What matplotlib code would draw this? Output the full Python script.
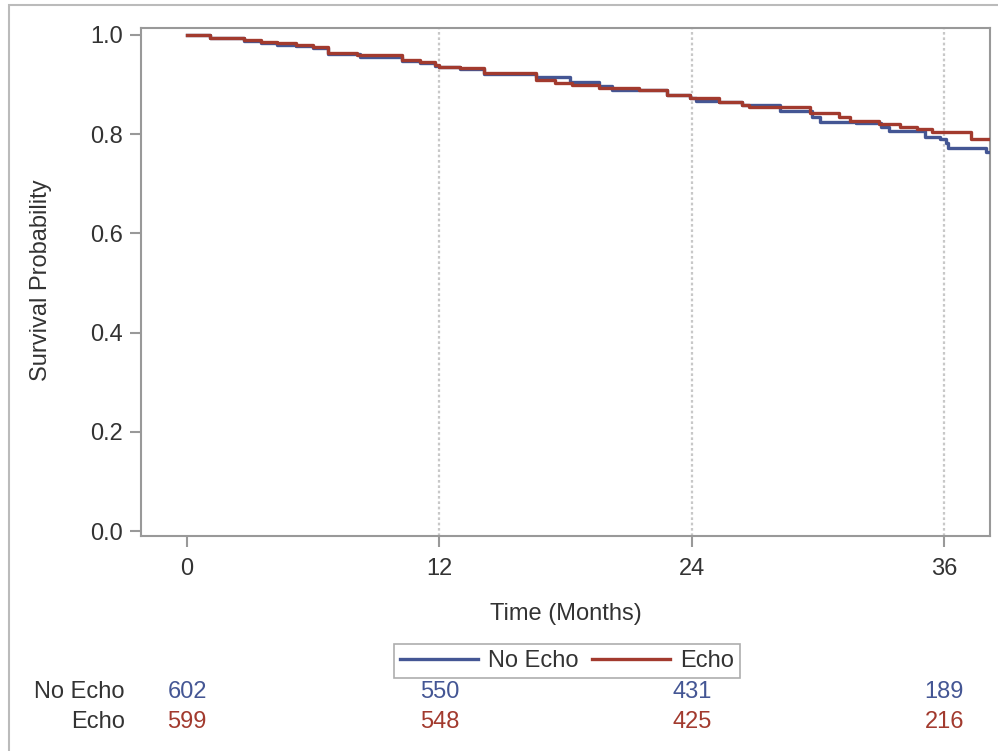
import numpy as np
import matplotlib.pyplot as plt
from matplotlib.lines import Line2D
from matplotlib.patches import Rectangle

plt.rcParams['font.family'] = ['Liberation Sans', 'DejaVu Sans']

# Kaplan-Meier step estimates (months, survival)
echo_t = [0, 1.1, 2.7, 3.5, 4.3, 5.2, 6.0, 6.7, 8.1, 10.2, 11.1, 11.8, 12.0, 13.0,
          14.1, 16.6, 17.5, 18.3, 19.6, 21.5, 22.8, 23.9, 25.3, 26.4, 26.7, 29.6,
          31.0, 31.5, 32.9, 33.9, 34.7, 35.4, 37.3, 38.2]
echo_s = [1.0, 0.994, 0.990, 0.986, 0.983, 0.980, 0.976, 0.964, 0.960, 0.950, 0.946,
          0.940, 0.936, 0.933, 0.923, 0.909, 0.903, 0.899, 0.894, 0.889, 0.879, 0.873,
          0.865, 0.858, 0.855, 0.843, 0.835, 0.827, 0.820, 0.814, 0.810, 0.804, 0.790,
          0.790]

noecho_t = [0, 1.1, 2.7, 3.5, 4.3, 5.2, 6.0, 6.7, 8.2, 10.2, 11.1, 11.8, 12.0, 13.0,
            14.1, 16.6, 18.2, 19.6, 20.2, 21.5, 22.8, 23.9, 24.2, 25.3, 26.4, 28.2,
            29.7, 30.1, 31.8, 33.0, 33.4, 35.1, 35.8, 36.1, 36.2, 38.0, 38.2]
noecho_s = [1.0, 0.993, 0.988, 0.983, 0.979, 0.977, 0.974, 0.962, 0.955, 0.948, 0.944,
            0.938, 0.935, 0.932, 0.922, 0.915, 0.905, 0.897, 0.890, 0.889, 0.879, 0.873,
            0.867, 0.865, 0.858, 0.846, 0.835, 0.825, 0.823, 0.814, 0.806, 0.794, 0.790,
            0.782, 0.772, 0.764, 0.764]

risk_times = [0, 12, 24, 36]
risk_noecho = [602, 550, 431, 189]
risk_echo = [599, 548, 425, 216]

blue = '#445694'
red = '#A23A2E'
axcol = '#999999'
txt = '#333333'
fs = 17

fig = plt.figure(figsize=(9.98, 7.51), dpi=100)

# outer frame of the graph
fig.patches.append(Rectangle((9 / 998, -0.1), 1.2, 1.0 - 5 / 751 + 0.1,
                             transform=fig.transFigure, fill=False,
                             edgecolor='#bbbbbb', linewidth=1.5))

ax = fig.add_axes([141 / 998, 1 - 536 / 751, (990 - 141) / 998, (536 - 28) / 751])

ax.step(noecho_t, noecho_s, where='post', color=blue, lw=2.4, label='No Echo', zorder=3)
ax.step(echo_t, echo_s, where='post', color=red, lw=2.4, label='Echo', zorder=4)

for t in [12, 24, 36]:
    ax.axvline(t, color='#c8c8c8', lw=1.6, ls=(0, (1.2, 1.2)), zorder=1)

ax.set_xlim(-2.19, 38.18)
ax.set_ylim(-0.010, 1.014)
ax.set_xticks(risk_times)
ax.set_yticks([0.0, 0.2, 0.4, 0.6, 0.8, 1.0])
ax.set_yticklabels(['0.0', '0.2', '0.4', '0.6', '0.8', '1.0'])
for s in ax.spines.values():
    s.set_color(axcol)
    s.set_linewidth(1.5)
ax.tick_params(direction='out', length=8, width=1.5, color=axcol,
               labelsize=fs, labelcolor=txt, pad=5)
ax.tick_params(axis='x', pad=8)
ax.set_xlabel('Time (Months)', fontsize=fs, color=txt)
ax.set_ylabel('Survival Probability', fontsize=fs, color=txt)
ax.xaxis.set_label_coords(0.5, -0.132)
ax.yaxis.set_label_coords(-0.105, 0.504)

handles = [Line2D([], [], color=blue, lw=2.4), Line2D([], [], color=red, lw=2.4)]
leg = fig.legend(handles, ['No Echo', 'Echo'], loc='center',
                 bbox_to_anchor=(567 / 998, 1 - 661 / 751), ncol=2, fontsize=fs,
                 frameon=True, fancybox=False, handlelength=3.3, handletextpad=0.4,
                 columnspacing=0.6, borderpad=0.25, labelcolor=txt)
leg.get_frame().set_edgecolor(axcol)
leg.get_frame().set_linewidth(1.2)

# numbers at risk under the axis
row_y = [1 - 692 / 751, 1 - 722 / 751]
for yy, name, vals, c in [(row_y[0], 'No Echo', risk_noecho, blue),
                          (row_y[1], 'Echo', risk_echo, red)]:
    fig.text(125 / 998, yy, name, ha='right', va='center', fontsize=fs, color=txt)
    for t, v in zip(risk_times, vals):
        xf = fig.transFigure.inverted().transform(ax.transData.transform((t, 0)))[0]
        fig.text(xf, yy, str(v), ha='center', va='center', fontsize=fs, color=c)

fig.savefig('out.png', dpi=100)
